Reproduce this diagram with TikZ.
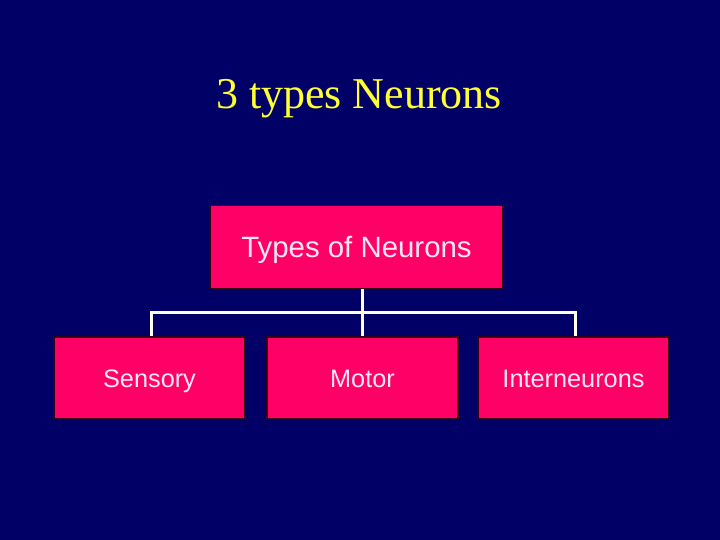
\documentclass[tikz,border=0pt]{standalone}
\usepackage{fontspec}
\setmainfont{Liberation Serif}
\setsansfont{Liberation Sans}
\definecolor{bg}{HTML}{000066}
\definecolor{boxfill}{HTML}{FF0066}
\definecolor{boxtext}{HTML}{FFE8F4}
\definecolor{titlecol}{HTML}{FFFF33}
\definecolor{linecol}{HTML}{FFFFF0}
\begin{document}
\begin{tikzpicture}[x=1pt,y=-1pt,
  boxstyle/.style={draw=black!80!boxfill, line width=1.5pt, fill=boxfill, text=boxtext,
    font=\sffamily\fontsize{25.3}{30}\selectfont, inner sep=0pt, anchor=center,
    text height=20pt, text depth=2pt},
  conn/.style={draw=linecol, line width=3pt}]
\fill[bg] (0,0) rectangle (720,540);
\useasboundingbox (0,0) rectangle (720,540);
\node[text=titlecol, font=\rmfamily\fontsize{44}{50}\selectfont] (title) at (359,99) {3 types Neurons};
\node[boxstyle, minimum width=293pt, minimum height=83pt, text height=24pt, font=\sffamily\fontsize{29.4}{34}\selectfont] (top) at (356.5,247) {Types of Neurons};
\node[boxstyle, minimum width=191pt, minimum height=82pt] (sens) at (149.5,378) {Sensory};
\node[boxstyle, minimum width=191pt, minimum height=82pt] (motor) at (362.5,378) {Motor};
\node[boxstyle, minimum width=191pt, minimum height=82pt] (inter) at (573.5,378) {Interneurons};
\coordinate (bus) at (0,312.5);
\draw[conn] (top.south -| motor.north) -- (motor.north);
\draw[conn] ([xshift=1.5pt]sens.north) -- ([xshift=1.5pt]sens.north |- bus) -- ([xshift=1.5pt]inter.north |- bus) -- ([xshift=1.5pt]inter.north);
\end{tikzpicture}
\end{document}
